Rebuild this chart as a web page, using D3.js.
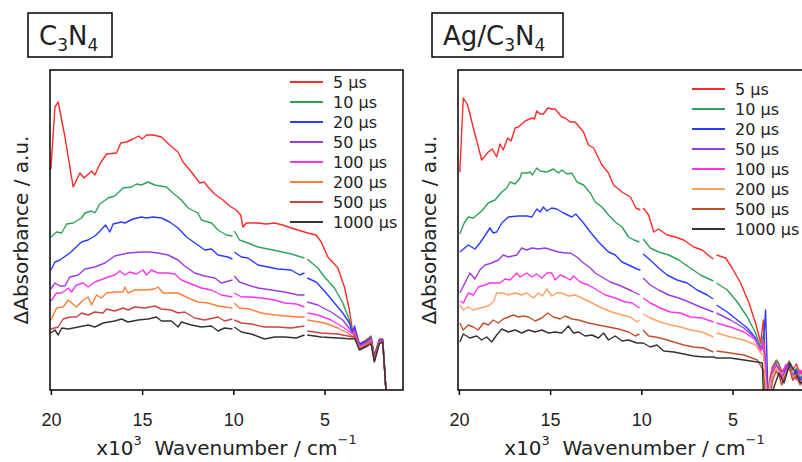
<!DOCTYPE html>
<html lang="en">
<head>
<meta charset="utf-8">
<script src="https://cdn.jsdelivr.net/npm/d3@7"></script>
<style>
body {
  margin: 0;
  background: #fff;
}
svg {
  font-family: 'DejaVu Sans', Verdana, sans-serif;
}
.frame {
  fill: none;
  stroke: #000;
  stroke-width: 1.5;
}
.curve {
  fill: none;
  stroke-width: 1.4;
  stroke-linejoin: round;
}
.xaxis path {
  display: none;
}
.xaxis line {
  stroke: #000;
  stroke-width: 1.5;
}
.xaxis text {
  font-size: 18px;
  fill: #222;
}
</style>
</head>
<body>
<svg id="chart" width="802" height="462"></svg>
<script>
// wavenumber in 10^3 cm^-1, ΔAbsorbance in arbitrary units; null marks a gap between detector ranges
const wavenumberTicks = [20, 15, 10, 5];
const delayLabels = ['5 µs', '10 µs', '20 µs', '50 µs', '100 µs', '200 µs', '500 µs', '1000 µs'];

const c3n4_5 = [[20.0,22.1],[19.78,28.3],[19.6,28.8],[19.23,25.3],[18.78,20.3],[18.41,21.7],[18.18,21.2],[17.77,21.9],[17.59,21.5],[17.32,22.6],[16.95,23.6],[16.4,23.7],[16.17,24.7],[15.86,24.8],[15.5,25.1],[15.18,25.4],[15.0,25.1],[14.76,25.5],[14.4,25.5],[13.94,25.3],[13.49,24.5],[13.03,23.8],[12.76,22.8],[12.3,21.8],[11.84,20.7],[11.6,20.8],[11.39,20.3],[11.02,19.6],[10.57,19.0],[10.2,18.4],[9.84,18.0],[9.6,17.5],[9.47,16.3],[9.29,16.7],[8.65,16.7],[8.2,16.6],[7.74,16.7],[7.3,16.5],[6.83,16.2],[6.1,15.8],[5.92,15.7],[5.46,15.5],[5.18,14.8],[4.82,13.3],[4.27,12.2],[3.91,10.3],[3.64,8.0],[3.45,5.7],[3.36,6.0],[3.09,4.6],[2.65,5.1],[2.45,5.4],[2.27,3.5],[2.0,5.1],[1.81,5.1],[1.6,-1]];
const c3n4_10 = [[20.0,15.3],[19.69,15.8],[19.41,15.7],[19.14,16.6],[18.78,16.7],[18.32,17.2],[18.14,17.7],[17.77,17.9],[17.59,17.7],[17.32,18.6],[16.86,19.2],[16.5,19.4],[16.04,20.2],[15.58,20.3],[15.31,20.6],[15.04,20.5],[14.67,20.8],[14.31,20.5],[13.67,20.3],[13.31,19.7],[12.85,19.0],[12.48,18.2],[11.94,17.7],[11.75,17.0],[11.2,16.7],[10.84,16.0],[10.38,15.5],[10.05,15.4],[10.0,null],[9.95,15.9],[9.66,15.0],[9.2,14.7],[8.65,14.3],[8.1,14.1],[7.56,13.9],[6.83,13.6],[6.1,13.2],[6.02,null],[5.95,13.1],[5.37,12.2],[5.0,11.3],[4.46,10.2],[4.0,8.7],[3.64,7.0],[3.45,5.6],[3.36,6.1],[3.09,4.5],[2.65,5.0],[2.45,5.3],[2.27,3.3],[2.0,5.0],[1.81,5.0],[1.6,-1]];
const c3n4_20 = [[20.0,12.0],[19.78,12.8],[19.51,13.0],[18.96,13.7],[18.5,14.5],[18.32,14.8],[17.96,15.0],[17.59,15.4],[17.41,15.7],[17.0,16.5],[16.77,15.8],[16.59,16.6],[16.13,16.8],[15.95,16.7],[15.5,17.1],[15.04,17.3],[14.76,17.2],[14.4,17.3],[13.94,17.2],[13.49,16.8],[13.03,16.2],[12.57,15.3],[11.94,14.5],[11.57,14.0],[11.2,14.1],[10.84,13.5],[10.3,13.3],[10.05,13.1],[10.0,null],[9.95,13.8],[9.56,13.3],[9.2,13.2],[8.65,12.5],[8.1,12.3],[7.56,12.1],[6.83,12.0],[6.37,11.5],[6.1,11.7],[6.02,null],[5.95,11.2],[5.46,10.8],[4.91,9.7],[4.46,8.7],[4.0,7.7],[3.64,6.7],[3.45,5.7],[3.36,6.4],[3.09,4.6],[2.65,4.9],[2.45,5.2],[2.27,3.2],[2.0,4.9],[1.81,5.0],[1.6,-1]];
const c3n4_50 = [[20.0,10.1],[19.78,10.7],[19.51,10.4],[19.23,10.4],[18.96,11.3],[18.5,11.5],[18.14,12.1],[17.59,12.3],[17.04,12.7],[16.5,13.4],[15.77,13.7],[15.04,13.8],[14.58,13.8],[14.13,13.7],[13.58,13.5],[13.03,13.0],[12.67,12.4],[12.12,11.7],[11.57,11.4],[11.02,11.2],[10.66,10.7],[10.05,11.0],[10.0,null],[9.95,11.4],[9.66,10.8],[9.2,10.5],[8.65,10.2],[7.92,10.0],[7.19,9.8],[6.46,9.5],[6.1,9.5],[6.02,null],[5.95,8.8],[5.37,8.5],[4.64,7.8],[4.0,7.0],[3.45,5.7],[3.36,6.0],[3.09,4.4],[2.65,4.8],[2.45,5.1],[2.27,3.1],[2.0,4.8],[1.81,4.9],[1.6,-1]];
const c3n4_100 = [[20.0,8.9],[19.69,9.7],[19.41,9.7],[19.05,10.2],[18.87,9.8],[18.6,10.5],[18.23,10.7],[17.96,10.3],[17.59,10.8],[17.14,11.1],[16.86,11.3],[16.5,11.5],[16.22,11.9],[15.95,11.5],[15.68,11.8],[15.31,11.6],[14.95,12.0],[14.76,11.5],[14.49,12.0],[14.13,11.7],[13.58,11.7],[13.21,11.6],[12.85,11.0],[12.3,10.6],[11.75,10.2],[11.2,10.0],[10.66,9.5],[10.05,9.3],[10.0,null],[9.95,9.7],[9.56,9.3],[9.02,9.3],[8.47,9.2],[7.74,9.0],[7.19,8.7],[6.55,8.6],[6.1,8.3],[6.02,null],[5.95,7.7],[5.37,7.5],[4.64,7.0],[4.0,6.3],[3.45,5.6],[3.36,5.9],[3.09,4.3],[2.65,4.7],[2.45,5.0],[2.27,3.0],[2.0,4.8],[1.81,4.9],[1.6,-1]];
const c3n4_200 = [[20.0,7.0],[19.69,8.2],[19.33,8.3],[19.05,9.0],[18.6,8.3],[18.23,9.0],[17.96,9.3],[17.77,8.5],[17.5,9.5],[17.23,9.2],[16.95,9.7],[16.5,9.8],[16.04,9.8],[15.95,10.3],[15.77,9.7],[15.4,10.0],[14.85,10.0],[14.31,10.1],[14.13,10.3],[13.85,9.7],[13.4,9.7],[13.03,9.7],[12.48,9.2],[11.94,8.8],[11.39,8.7],[10.84,8.4],[10.05,8.2],[10.0,null],[9.95,8.7],[9.66,8.2],[9.11,8.1],[8.47,7.7],[7.74,7.5],[7.1,7.4],[6.46,7.3],[6.1,7.3],[6.02,null],[5.95,7.0],[5.0,6.7],[4.27,6.2],[3.73,5.7],[3.45,5.3],[3.36,5.6],[3.09,4.2],[2.65,4.6],[2.45,4.9],[2.27,3.0],[2.0,4.7],[1.81,4.8],[1.6,-1]];
const c3n4_500 = [[20.0,6.1],[19.6,6.3],[19.33,7.1],[18.96,7.3],[18.6,7.3],[18.32,7.7],[17.96,7.5],[17.59,7.8],[17.14,7.7],[16.95,8.1],[16.5,7.9],[16.04,8.2],[15.77,8.0],[15.4,8.3],[14.85,8.2],[14.31,8.4],[13.94,8.1],[13.4,8.0],[13.03,7.7],[12.67,7.8],[12.12,7.2],[11.57,7.0],[10.84,7.3],[10.48,6.9],[10.05,7.1],[10.0,null],[9.95,7.0],[9.56,6.7],[9.02,6.6],[8.29,6.3],[7.56,6.3],[6.83,6.2],[6.1,6.4],[6.02,null],[5.95,5.9],[5.18,5.7],[4.27,5.6],[3.45,5.3],[3.36,5.5],[3.09,4.1],[2.65,4.5],[2.45,4.8],[2.27,2.9],[2.0,4.7],[1.81,4.8],[1.6,-1]];
const c3n4_1000 = [[20.0,5.7],[19.78,6.0],[19.6,5.5],[19.41,6.2],[19.05,6.1],[18.5,6.3],[17.96,6.5],[17.59,6.3],[17.14,6.7],[16.5,6.9],[16.13,7.1],[15.77,6.8],[15.22,7.0],[14.67,7.1],[14.22,7.3],[13.94,6.9],[13.4,6.9],[13.03,6.3],[12.85,6.8],[12.3,6.5],[11.75,6.3],[11.2,6.4],[10.84,5.9],[10.48,6.2],[10.05,6.1],[10.0,null],[9.95,6.3],[9.56,5.8],[9.02,5.6],[8.29,5.1],[7.74,5.3],[7.19,5.3],[6.55,5.2],[6.1,5.5],[6.02,null],[5.95,5.5],[5.18,5.3],[4.27,5.2],[3.45,5.1],[3.36,5.2],[3.09,4.0],[2.65,4.4],[2.45,4.6],[2.27,2.8],[2.0,4.6],[1.81,4.8],[1.6,-1]];

const ag_5 = [[19.95,21.8],[19.76,29.2],[19.52,28.5],[19.21,26.2],[18.75,23.0],[18.39,23.8],[18.17,24.1],[17.93,23.3],[17.75,24.6],[17.57,24.0],[17.33,25.2],[17.14,24.9],[16.92,26.2],[16.74,26.3],[16.37,26.9],[16.0,27.2],[15.86,27.1],[15.73,27.9],[15.55,27.6],[15.37,27.6],[15.13,28.2],[14.91,28.1],[14.73,28.1],[14.36,27.3],[14.18,27.2],[13.9,26.8],[13.63,26.8],[13.17,25.8],[12.9,24.5],[12.62,24.2],[12.16,22.5],[11.8,21.7],[11.52,20.5],[11.06,19.8],[10.6,19.3],[10.3,18.2],[10.05,18.0],[10.0,null],[9.9,18.2],[9.6,17.5],[9.32,15.8],[9.05,16.1],[8.59,15.5],[8.13,15.3],[7.68,15.0],[7.13,14.3],[6.67,14.0],[6.21,13.3],[6.05,13.1],[6.0,null],[5.88,13.5],[5.38,13.2],[5.02,12.2],[4.56,10.7],[4.1,8.7],[3.74,6.7],[3.46,4.7],[3.31,7.0],[3.19,2.3],[3.08,-1],[2.95,1.2],[2.8,2.4],[2.6,3.0],[2.45,2.6],[2.3,1.8],[2.1,2.3],[1.9,2.9],[1.7,2.0],[1.5,2.6],[1.3,1.6],[1.1,2.2],[0.8,1.8]];
const ag_10 = [[19.95,15.6],[19.71,16.7],[19.49,17.3],[19.21,17.2],[18.75,17.9],[18.39,18.7],[18.02,19.0],[17.65,19.8],[17.38,20.2],[17.2,20.8],[16.92,20.6],[16.65,21.2],[16.56,21.7],[16.28,21.7],[16.1,21.8],[15.97,21.5],[15.73,22.2],[15.55,21.9],[15.18,21.8],[14.82,22.1],[14.54,21.7],[14.36,22.0],[14.08,21.6],[13.81,21.7],[13.53,20.8],[13.17,20.5],[12.8,19.7],[12.53,18.8],[12.16,18.3],[11.8,17.5],[11.43,16.8],[11.06,16.3],[10.7,15.3],[10.4,15.0],[10.1,14.8],[10.0,null],[9.9,15.1],[9.51,14.2],[9.05,13.8],[8.5,13.5],[7.95,13.0],[7.4,12.3],[6.76,11.5],[6.05,10.9],[6.0,null],[5.88,10.7],[5.29,10.0],[4.74,8.8],[4.19,7.3],[3.74,5.7],[3.46,4.2],[3.31,5.5],[3.19,1.5],[3.08,-1],[2.95,0.8],[2.8,2.0],[2.6,2.9],[2.45,2.5],[2.3,1.2],[2.1,2.0],[1.9,2.8],[1.7,1.5],[1.5,2.2],[1.3,1.2],[1.1,1.8],[0.8,1.5]];
const ag_20 = [[19.95,13.8],[19.49,14.5],[19.12,14.1],[18.85,14.7],[18.66,15.2],[18.3,16.2],[18.12,15.7],[17.93,15.8],[17.65,16.7],[17.29,17.3],[16.74,17.4],[16.28,17.4],[16.0,17.3],[15.73,18.1],[15.55,17.8],[15.37,18.3],[15.18,17.9],[14.91,18.2],[14.64,18.1],[14.27,17.7],[13.81,17.3],[13.59,17.6],[13.17,16.7],[12.8,15.8],[12.43,15.0],[12.35,14.8],[11.8,13.8],[11.43,13.5],[11.06,12.8],[10.7,12.5],[10.24,12.1],[10.05,12.0],[10.0,null],[9.9,13.6],[9.51,13.0],[9.05,12.2],[8.59,11.5],[8.04,11.0],[7.49,10.7],[6.94,10.0],[6.39,9.5],[6.06,9.1],[6.0,null],[5.88,8.5],[5.29,7.8],[4.74,7.0],[4.19,6.2],[3.74,5.2],[3.46,4.0],[3.31,4.5],[3.19,8.0],[3.05,-1],[2.95,0.5],[2.8,1.6],[2.6,2.5],[2.45,2.0],[2.3,1.0],[2.1,2.2],[1.9,2.6],[1.7,1.3],[1.5,2.0],[1.3,1.0],[1.1,1.6],[0.8,1.2]];
const ag_50 = [[19.95,9.7],[19.67,10.7],[19.4,11.7],[19.12,11.1],[18.85,12.0],[18.57,12.5],[18.2,12.7],[17.84,13.0],[17.57,13.5],[17.29,13.3],[16.83,13.5],[16.56,14.2],[16.28,14.0],[16.0,14.2],[15.64,14.1],[15.27,14.2],[14.91,14.0],[14.54,13.8],[14.18,13.7],[13.9,13.7],[13.53,13.3],[13.17,12.7],[12.8,12.2],[12.53,11.7],[12.07,11.2],[11.7,10.8],[11.25,10.5],[10.88,10.2],[10.51,9.9],[10.1,9.5],[10.0,null],[9.9,11.2],[9.51,10.5],[9.05,10.0],[8.5,9.5],[7.95,9.2],[7.4,8.8],[6.76,8.3],[6.05,7.8],[6.0,null],[5.88,7.7],[5.11,7.0],[4.38,6.2],[3.83,5.3],[3.46,4.0],[3.31,4.2],[3.19,3.0],[3.08,-1],[2.95,0.7],[2.8,1.8],[2.6,2.6],[2.45,2.1],[2.3,0.9],[2.1,1.8],[1.9,2.6],[1.7,1.0],[1.5,1.8],[1.3,0.8],[1.1,1.5],[0.8,1.0]];
const ag_100 = [[19.95,8.9],[19.76,8.7],[19.49,9.7],[19.21,9.5],[18.94,10.3],[18.57,10.5],[18.3,10.7],[18.02,10.7],[17.75,10.7],[17.47,11.1],[17.2,11.0],[16.83,11.7],[16.65,11.3],[16.28,11.7],[16.0,11.3],[15.73,11.6],[15.46,11.2],[15.18,11.7],[14.91,11.7],[14.73,11.0],[14.45,11.5],[14.18,11.3],[13.9,11.0],[13.72,11.4],[13.35,10.8],[12.9,10.5],[12.43,10.0],[11.98,9.5],[11.43,9.2],[10.88,8.8],[10.51,8.7],[10.1,8.2],[10.0,null],[9.9,9.2],[9.51,8.7],[8.96,8.2],[8.41,7.8],[7.86,7.7],[7.31,7.3],[6.67,7.2],[6.05,6.8],[6.0,null],[5.88,6.7],[5.11,6.3],[4.38,5.8],[3.74,5.0],[3.46,3.9],[3.31,5.0],[3.19,2.0],[3.08,-1],[2.95,0.5],[2.8,1.9],[2.6,2.4],[2.45,2.3],[2.3,1.2],[2.1,2.5],[1.9,2.2],[1.7,1.6],[1.5,1.0],[1.3,2.0],[1.1,1.3],[0.8,1.6]];
const ag_200 = [[19.95,8.5],[19.76,8.0],[19.49,8.3],[19.21,8.0],[18.85,8.2],[18.39,8.4],[18.12,8.8],[17.93,9.7],[17.57,9.7],[17.29,9.5],[16.92,9.7],[16.56,9.5],[16.28,9.7],[15.92,9.2],[15.64,9.7],[15.42,9.4],[15.18,10.1],[14.91,9.4],[14.64,9.7],[14.36,9.7],[14.0,9.4],[13.63,9.5],[13.26,9.2],[12.71,8.7],[12.16,8.2],[11.61,7.8],[11.06,7.5],[10.6,7.3],[10.24,6.8],[10.1,7.0],[10.0,null],[9.9,7.6],[9.51,7.2],[8.96,6.8],[8.41,6.5],[7.86,6.3],[7.31,6.0],[6.67,5.8],[6.3,5.5],[6.06,5.3],[6.0,null],[5.88,5.7],[5.11,5.3],[4.38,5.0],[3.74,4.5],[3.46,3.7],[3.31,3.5],[3.19,1.0],[3.1,-1],[2.95,0.6],[2.8,1.5],[2.6,2.2],[2.45,1.8],[2.3,0.8],[2.1,1.7],[1.9,2.3],[1.7,1.2],[1.5,1.6],[1.3,0.6],[1.1,1.2],[0.8,0.9]];
const ag_500 = [[19.95,6.7],[19.76,6.0],[19.49,6.5],[19.21,6.3],[18.94,6.0],[18.66,6.7],[18.39,6.5],[18.12,7.0],[17.84,6.7],[17.57,7.1],[17.29,7.3],[17.02,7.5],[16.74,7.3],[16.47,7.4],[16.19,7.3],[15.82,6.9],[15.46,7.2],[15.13,7.7],[14.82,7.3],[14.45,7.1],[14.18,7.4],[13.81,7.1],[13.44,7.0],[12.9,6.7],[12.35,6.5],[11.8,6.3],[11.25,6.1],[10.7,5.8],[10.33,5.4],[10.1,5.6],[10.0,null],[9.9,6.0],[9.6,5.4],[9.23,5.3],[8.77,5.1],[8.22,4.8],[7.68,4.5],[7.13,4.3],[6.58,4.2],[6.05,3.8],[6.0,null],[5.88,3.9],[5.11,3.7],[4.38,3.5],[3.64,3.0],[3.42,2.3],[3.31,2.0],[3.19,-1],[2.95,-1],[2.8,1.0],[2.6,1.9],[2.45,1.4],[2.3,0.5],[2.1,1.5],[1.9,2.3],[1.7,1.0],[1.5,1.4],[1.3,0.5],[1.1,1.0],[0.8,0.7]];
const ag_1000 = [[19.95,4.8],[19.76,5.6],[19.4,5.2],[19.03,5.4],[18.75,5.0],[18.48,5.3],[18.2,4.8],[17.93,5.5],[17.65,6.1],[17.29,5.8],[16.92,6.0],[16.56,5.7],[16.19,6.0],[15.82,5.8],[15.46,6.0],[15.09,5.7],[14.73,5.8],[14.36,5.7],[14.0,6.4],[13.72,5.7],[13.44,5.8],[13.08,5.4],[12.71,5.5],[12.35,5.2],[12.07,5.7],[11.8,5.0],[11.43,5.4],[11.06,4.9],[10.7,5.0],[10.24,4.7],[9.9,4.7],[9.51,4.3],[9.14,4.5],[8.77,3.9],[8.22,3.8],[7.68,3.6],[7.13,3.4],[6.58,3.3],[6.03,3.3],[5.88,3.2],[5.11,3.2],[4.38,3.0],[3.64,2.8],[3.37,2.7],[3.3,-1],[2.9,-1],[2.73,0.3],[2.46,1.7],[2.18,0.7],[1.85,2.7],[1.54,1.7],[1.27,0.7],[0.8,1.0]];

const c3n4Colors = ['#ff2a2a', '#2ea25a', '#2b3cff', '#9a3de0', '#ff33ee', '#ff7f3a', '#c94444', '#333333'];
const agColors = ['#ff2a2a', '#2ea25a', '#2b3cff', '#9a3de0', '#ff33ee', '#ffa060', '#c0502a', '#333333'];

const svg = d3.select('#chart');

const plotW = 353;
const plotTop = 70;
const plotBottom = 390;

const y = d3.scaleLinear()
  .domain([0, 32])
  .range([plotBottom, plotTop]);

function drawPanel(opts) {
  const x = d3.scaleLinear()
    .domain([20.05, 0.7])
    .range([opts.left, opts.left + plotW]);

  const g = svg.append('g');

  g.append('clipPath')
    .attr('id', opts.id + '-clip')
    .append('rect')
    .attr('x', opts.left)
    .attr('y', plotTop)
    .attr('width', plotW)
    .attr('height', plotBottom - plotTop);

  const line = d3.line()
    .defined((d) => d[1] !== null)
    .x((d) => x(d[0]))
    .y((d) => y(d[1]));

  g.append('g')
    .attr('clip-path', `url(#${opts.id}-clip)`)
    .selectAll('path')
    .data(opts.series)
    .enter()
    .append('path')
    .attr('class', 'curve')
    .attr('stroke', (d, i) => opts.colors[i])
    .attr('d', line);

  g.append('rect')
    .attr('class', 'frame')
    .attr('x', opts.left)
    .attr('y', plotTop)
    .attr('width', plotW)
    .attr('height', plotBottom - plotTop);

  g.append('g')
    .attr('class', 'xaxis')
    .attr('transform', `translate(0, ${plotBottom})`)
    .call(d3.axisBottom(x)
      .tickValues(wavenumberTicks)
      .tickSize(5)
      .tickSizeOuter(0)
      .tickPadding(18)
      .tickFormat(d3.format('d')));

  // legend
  const leg = g.append('g');
  delayLabels.forEach((label, i) => {
    const ly = opts.legendTop + i * 20;
    leg.append('line')
      .attr('x1', opts.legendX)
      .attr('x2', opts.legendX + 33)
      .attr('y1', ly)
      .attr('y2', ly)
      .attr('stroke', opts.colors[i])
      .attr('stroke-width', 2);
    leg.append('text')
      .attr('x', opts.legendX + 43)
      .attr('y', ly + 5.8)
      .attr('font-size', 16)
      .attr('fill', '#222')
      .text(label);
  });

  // axis titles
  const xt = g.append('text')
    .attr('x', opts.left + plotW / 2)
    .attr('y', 455)
    .attr('text-anchor', 'middle')
    .attr('font-size', 20)
    .attr('fill', '#222');
  xt.append('tspan').text('x10');
  xt.append('tspan').attr('font-size', 13).attr('dy', -10).text('3');
  xt.append('tspan').attr('dy', 10).attr('xml:space', 'preserve').text('  Wavenumber / cm');
  xt.append('tspan').attr('font-size', 13).attr('dy', -11).text('−1');

  g.append('text')
    .attr('transform', `translate(${opts.left - 22}, ${(plotTop + plotBottom) / 2}) rotate(-90)`)
    .attr('text-anchor', 'middle')
    .attr('font-size', 20)
    .attr('fill', '#222')
    .text('ΔAbsorbance / a.u.');

  // sample name box
  g.append('rect')
    .attr('class', 'frame')
    .attr('x', opts.boxX)
    .attr('y', 13)
    .attr('width', opts.boxW)
    .attr('height', 44);

  const tt = g.append('text')
    .attr('x', opts.boxX + 11)
    .attr('y', 45)
    .attr('font-size', 26)
    .attr('fill', '#222');
  opts.title.forEach((part) => {
    tt.append('tspan')
      .attr('font-size', part.sub ? 17 : 26)
      .attr('dy', part.sub ? 6 : (part.after ? -6 : 0))
      .text(part.t);
  });
}

drawPanel({
  id: 'c3n4',
  left: 50,
  series: [c3n4_5, c3n4_10, c3n4_20, c3n4_50, c3n4_100, c3n4_200, c3n4_500, c3n4_1000],
  colors: c3n4Colors,
  legendX: 290,
  legendTop: 82,
  boxX: 28,
  boxW: 84,
  title: [{t: 'C'}, {t: '3', sub: true}, {t: 'N', after: true}, {t: '4', sub: true}]
});

drawPanel({
  id: 'ag',
  left: 458,
  series: [ag_5, ag_10, ag_20, ag_50, ag_100, ag_200, ag_500, ag_1000],
  colors: agColors,
  legendX: 692,
  legendTop: 89,
  boxX: 432,
  boxW: 131,
  title: [{t: 'Ag/C'}, {t: '3', sub: true}, {t: 'N', after: true}, {t: '4', sub: true}]
});
</script>
</body>
</html>
